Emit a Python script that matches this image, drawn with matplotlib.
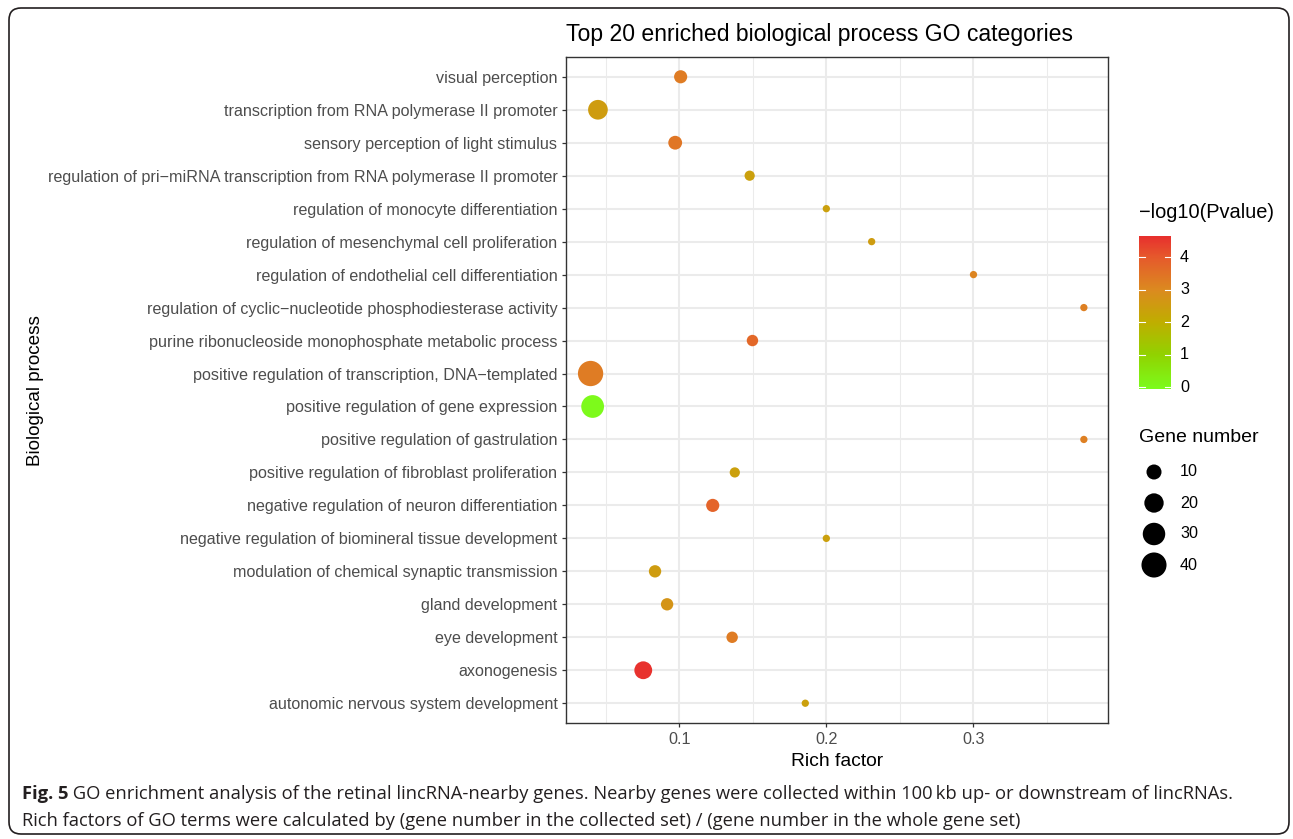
import numpy as np
import matplotlib
matplotlib.use("Agg")
import matplotlib.pyplot as plt
from matplotlib.colors import LinearSegmentedColormap, Normalize
from matplotlib.patches import FancyBboxPatch
import matplotlib.transforms as mtransforms

# ---- data (listed top to bottom as displayed) ----
terms = [
    "visual perception",
    "transcription from RNA polymerase II promoter",
    "sensory perception of light stimulus",
    "regulation of pri\u2212miRNA transcription from RNA polymerase II promoter",
    "regulation of monocyte differentiation",
    "regulation of mesenchymal cell proliferation",
    "regulation of endothelial cell differentiation",
    "regulation of cyclic\u2212nucleotide phosphodiesterase activity",
    "purine ribonucleoside monophosphate metabolic process",
    "positive regulation of transcription, DNA\u2212templated",
    "positive regulation of gene expression",
    "positive regulation of gastrulation",
    "positive regulation of fibroblast proliferation",
    "negative regulation of neuron differentiation",
    "negative regulation of biomineral tissue development",
    "modulation of chemical synaptic transmission",
    "gland development",
    "eye development",
    "axonogenesis",
    "autonomic nervous system development",
]
rich_factor = [0.1010, 0.0448, 0.0973, 0.1479, 0.2000, 0.2308, 0.3000, 0.3750,
               0.1498, 0.0398, 0.0412, 0.3750, 0.1378, 0.1228, 0.2000, 0.0836,
               0.0918, 0.1360, 0.0756, 0.1857]
gene_number = [7, 21, 8, 4, 3, 3, 3, 3, 5, 41, 31, 3, 4, 7, 3, 6, 6, 5, 16, 3]
neg_log10_p = [3.3, 2.5, 3.4, 2.4, 2.4, 2.5, 3.1, 3.2, 3.7, 3.3, 0.0, 3.2,
               2.4, 3.8, 2.4, 2.5, 2.7, 3.3, 4.6, 2.4]

x_ticks = [0.1, 0.2, 0.3]
x_tick_labels = ["0.1", "0.2", "0.3"]
x_minor = [0.05, 0.15, 0.25, 0.35]
cbar_ticks = [0, 1, 2, 3, 4]
size_breaks = [10, 20, 30, 40]

title = "Top 20 enriched biological process GO categories"
x_label = "Rich factor"
y_label = "Biological process"
color_title = "\u2212log10(Pvalue)"
size_title = "Gene number"
caption_bold = "Fig. 5"
caption_line1 = (" GO enrichment analysis of the retinal lincRNA-nearby genes. Nearby genes "
                 "were collected within 100\u2009kb up- or downstream of lincRNAs.")
caption_line2 = ("Rich factors of GO terms were calculated by (gene number in the collected set) "
                 "/ (gene number in the whole gene set)")

# ---- figure setup ----
W, H, DPI = 1293, 839, 100
plt.rcParams["font.family"] = ["Liberation Sans", "DejaVu Sans"]
fig = plt.figure(figsize=(W / DPI, H / DPI), dpi=DPI)
fig.patch.set_facecolor("white")


def fx(px):
    return px / W


def fy(py):
    return 1 - py / H


# colour scale: green -> olive -> orange -> red
vmin, vmax = -0.06, 4.65
cmap = LinearSegmentedColormap.from_list(
    "go_grad",
    [(0.0, "#7CFC1C"),
     ((1.0 - vmin) / (vmax - vmin), "#92D200"),
     ((2.0 - vmin) / (vmax - vmin), "#C0AE00"),
     ((3.0 - vmin) / (vmax - vmin), "#DC8A20"),
     ((4.0 - vmin) / (vmax - vmin), "#E65A2C"),
     (1.0, "#E8302E")])
norm = Normalize(vmin=vmin, vmax=vmax)

# point size: area scaling between the smallest and largest gene counts
gmin, gmax = min(gene_number), max(gene_number)


def marker_area(n):
    n = np.asarray(n, dtype=float)
    diam_px = 7.3 + 18.0 * np.sqrt((n - gmin) / (gmax - gmin))
    return (diam_px * 72.0 / DPI) ** 2


# ---- main panel ----
ax = fig.add_axes([fx(566), fy(723), fx(1108) - fx(566), fy(57) - fy(723)])
nrow = len(terms)
ypos = np.arange(nrow, 0, -1)

ax.set_xlim(0.0231, 0.3914)
ax.set_ylim(0.4, nrow + 0.6)
ax.set_facecolor("white")

for xm in x_minor:
    ax.axvline(xm, color="#EBEBEB", lw=0.75, zorder=0)
for xv in x_ticks:
    ax.axvline(xv, color="#EBEBEB", lw=1.45, zorder=0)
for yv in ypos:
    ax.axhline(yv, color="#EBEBEB", lw=1.45, zorder=0)

ax.scatter(rich_factor, ypos, s=marker_area(gene_number),
           c=neg_log10_p, cmap=cmap, norm=norm, linewidths=0, zorder=3)

ax.set_xticks(x_ticks)
ax.set_xticklabels(x_tick_labels)
ax.set_yticks(ypos)
ax.set_yticklabels(terms)
ax.tick_params(axis="both", colors="#333333", length=3.2, width=0.9,
               labelcolor="#4D4D4D")
ax.tick_params(axis="y", labelsize=11.6, pad=3)
ax.tick_params(axis="x", labelsize=11.6, pad=3)
for sp in ax.spines.values():
    sp.set_color("#333333")
    sp.set_linewidth(1.0)

# ---- overlay in pixel coordinates for text and legends ----
ov = fig.add_axes([0, 0, 1, 1], zorder=-1)
ov.set_xlim(0, W)
ov.set_ylim(H, 0)
ov.axis("off")

# rounded frame around the whole figure
frame = FancyBboxPatch((9, 8), 1280, 826,
                       boxstyle="round,pad=0,rounding_size=12",
                       fc="none", ec="#231F20", lw=1.2)
ov.add_patch(frame)

ov.text(566, 34, title, fontsize=16.6, color="black", ha="left", va="center")
ov.text(837, 762, x_label, fontsize=13.9, color="black", ha="center", va="center")
ov.text(36, 391, y_label, fontsize=13.6, color="black", ha="center", va="center",
        rotation=90)

# colour bar legend
ov.text(1139, 213, color_title, fontsize=14.4, color="black", ha="left", va="center")
cax = fig.add_axes([fx(1139), fy(389), fx(1171) - fx(1139), fy(236) - fy(389)])
grad = np.linspace(vmin, vmax, 400).reshape(-1, 1)
cax.imshow(grad, cmap=cmap, norm=norm, origin="lower", aspect="auto",
           extent=[0, 1, vmin, vmax])
cax.set_xlim(0, 1)
cax.set_ylim(vmin, vmax)
cax.axis("off")
tr = mtransforms.blended_transform_factory(fig.transFigure, cax.transData)
for t in cbar_ticks:
    cax.plot([0, 0.2], [t, t], color="white", lw=0.8)
    cax.plot([0.8, 1], [t, t], color="white", lw=0.8)
    fig.text(fx(1180), t, str(t), transform=tr, fontsize=11.6, color="black",
             ha="left", va="center")

# size legend
ov.text(1139, 438, size_title, fontsize=14, color="black", ha="left", va="center")
legend_y = [472, 503, 534, 565]
ov.scatter([1154] * len(size_breaks), legend_y, s=marker_area(size_breaks),
           c="black", linewidths=0)
for yy, b in zip(legend_y, size_breaks):
    ov.text(1180, yy, str(b), fontsize=11.6, color="black", ha="left", va="center")

# caption
cap_font = ["Open Sans", "DejaVu Sans"]
cap_size = 13.2
fig.canvas.draw()
renderer = fig.canvas.get_renderer()
tb = ov.text(22, 794, caption_bold, fontsize=cap_size, fontweight="bold",
             family=cap_font, color="#231F20", ha="left", va="center")
bb = tb.get_window_extent(renderer=renderer)
ov.text(bb.x1, 794, caption_line1, fontsize=cap_size, family=cap_font,
        color="#231F20", ha="left", va="center")
ov.text(22, 821, caption_line2, fontsize=cap_size, family=cap_font,
        color="#231F20", ha="left", va="center")

fig.savefig("out.png", dpi=DPI, facecolor="white")
